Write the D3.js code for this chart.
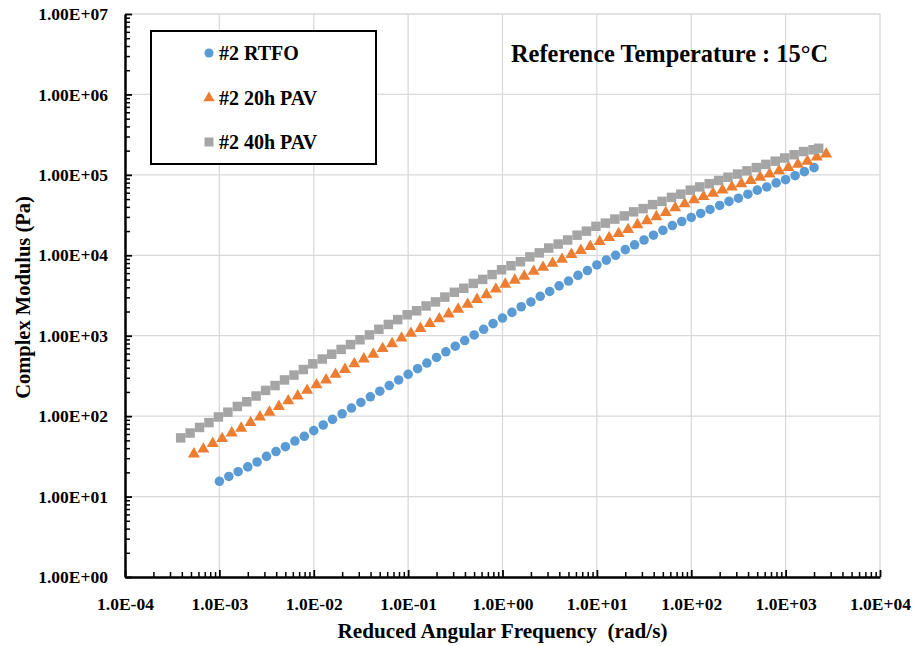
<!DOCTYPE html>
<html>
<head>
<meta charset="utf-8">
<script src="https://cdn.jsdelivr.net/npm/d3@7"></script>
<style>
  body { margin: 0; background: #fff; }
  svg text { font-family: "Times New Roman", "Liberation Serif", serif; font-weight: bold; fill: #000; }
</style>
</head>
<body>
<svg id="chart" width="917" height="646"></svg>
<script>
// ---- data ----
const seriesNames = ["#2 RTFO", "#2 20h PAV", "#2 40h PAV"];

const rtfoFreq = [
  0.001, 0.00126, 0.00158, 0.002, 0.00251, 0.00316, 0.00398, 0.00501, 0.00631, 0.00794,
  0.01, 0.0126, 0.0158, 0.02, 0.0251, 0.0316, 0.0398, 0.0501, 0.0631, 0.0794,
  0.1, 0.126, 0.158, 0.2, 0.251, 0.316, 0.398, 0.501, 0.631, 0.794,
  1, 1.26, 1.58, 2, 2.51, 3.16, 3.98, 5.01, 6.31, 7.94,
  10, 12.6, 15.8, 20, 25.1, 31.6, 39.8, 50.1, 63.1, 79.4,
  100, 126, 158, 200, 251, 316, 398, 501, 631, 794,
  1000, 1260, 1580, 2000
];
const rtfoModulus = [
  15.5, 17.8, 20.4, 23.4, 26.9, 31.6, 36.3, 41.7, 49.0, 56.2,
  66.1, 77.6, 91.2, 107, 126, 148, 174, 204, 240, 282,
  331, 389, 457, 537, 631, 741, 871, 1023, 1202, 1413,
  1660, 1950, 2291, 2630, 3090, 3548, 4169, 4786, 5623, 6457,
  7586, 8710, 10000, 11750, 13490, 15490, 17780, 20420, 23440, 26300,
  29510, 33110, 37150, 41690, 46770, 51290, 57540, 64570, 70790, 79430,
  87100, 97720, 109600, 123000
];

const pav20Freq = [
  0.000537, 0.000676, 0.000851,
  0.00107, 0.00135, 0.0017, 0.00214, 0.00269, 0.00339, 0.00427, 0.00537, 0.00676, 0.00851,
  0.0107, 0.0135, 0.017, 0.0214, 0.0269, 0.0339, 0.0427, 0.0537, 0.0676, 0.0851,
  0.107, 0.135, 0.17, 0.214, 0.269, 0.339, 0.427, 0.537, 0.676, 0.851,
  1.07, 1.35, 1.7, 2.14, 2.69, 3.39, 4.27, 5.37, 6.76, 8.51,
  10.7, 13.5, 17.0, 21.4, 26.9, 33.9, 42.7, 53.7, 67.6, 85.1,
  107, 135, 170, 214, 269, 339, 427, 537, 676, 851,
  1070, 1350, 1700, 2140, 2690
];
const pav20Modulus = [
  33.9, 38.9, 45.7,
  52.5, 61.7, 70.8, 83.2, 97.7, 112, 132, 155, 178, 209,
  245, 282, 331, 380, 447, 513, 589, 692, 794, 933,
  1072, 1230, 1413, 1622, 1862, 2138, 2455, 2818, 3236, 3802,
  4365, 4898, 5495, 6310, 7079, 7943, 8913, 10230, 11480, 12880,
  14790, 16600, 18620, 20890, 23990, 26920, 30200, 33880, 38900, 43650,
  48980, 53700, 58880, 64570, 70790, 77620, 85110, 93330, 102300, 112200,
  123000, 134900, 147900, 166000, 182000
];

const pav40Freq = [
  0.000389, 0.00049, 0.000617, 0.000776, 0.000977,
  0.00123, 0.00155, 0.00195, 0.00245, 0.00309, 0.00389, 0.0049, 0.00617, 0.00776, 0.00977,
  0.0123, 0.0155, 0.0195, 0.0245, 0.0309, 0.0389, 0.049, 0.0617, 0.0776, 0.0977,
  0.123, 0.155, 0.195, 0.245, 0.309, 0.389, 0.49, 0.617, 0.776, 0.977,
  1.23, 1.55, 1.95, 2.45, 3.09, 3.89, 4.9, 6.17, 7.76, 9.77,
  12.3, 15.5, 19.5, 24.5, 30.9, 38.9, 49.0, 61.7, 77.6, 97.7,
  123, 155, 195, 245, 309, 389, 490, 617, 776, 977,
  1230, 1550, 1950, 2240
];
const pav40Modulus = [
  53.7, 61.7, 72.4, 83.2, 97.7,
  112, 132, 151, 178, 209, 240, 282, 324, 380, 447,
  513, 589, 676, 776, 891, 1023, 1202, 1380, 1585, 1820,
  2042, 2344, 2630, 3020, 3467, 3890, 4467, 5012, 5754, 6607,
  7413, 8318, 9550, 10720, 12300, 13800, 15490, 17780, 19950, 22910,
  25120, 28180, 30900, 34670, 38020, 42660, 46770, 52480, 57540, 64570,
  70790, 77620, 85110, 93330, 102300, 112200, 123000, 134900, 147900, 162200,
  177800, 195000, 205000, 214000
];

const xTickValues = [1e-4, 1e-3, 1e-2, 1e-1, 1e0, 1e1, 1e2, 1e3, 1e4];
const xTickLabels = ["1.0E-04", "1.0E-03", "1.0E-02", "1.0E-01", "1.0E+00", "1.0E+01", "1.0E+02", "1.0E+03", "1.0E+04"];
const yTickValues = [1e0, 1e1, 1e2, 1e3, 1e4, 1e5, 1e6, 1e7];
const yTickLabels = ["1.00E+00", "1.00E+01", "1.00E+02", "1.00E+03", "1.00E+04", "1.00E+05", "1.00E+06", "1.00E+07"];

const xTitle = "Reduced Angular Frequency\u00a0\u00a0(rad/s)";
const yTitle = "Complex Modulus (Pa)";
const note = "Reference Temperature : 15\u00b0C";

// ---- drawing ----
const svg = d3.select("#chart");
const margin = {top: 14, right: 37, bottom: 69, left: 125};
const W = 917, H = 646;

const x = d3.scaleLog().domain([1e-4, 1e4]).range([margin.left, W - margin.right]);
const y = d3.scaleLog().domain([1, 1e7]).range([H - margin.bottom, margin.top]);

// gridlines
const grid = svg.append("g").attr("stroke", "#d9d9d9").attr("stroke-width", 1.3);
grid.selectAll(".gx").data(xTickValues.slice(1)).join("line")
  .attr("x1", d => x(d)).attr("x2", d => x(d))
  .attr("y1", y(1e7)).attr("y2", y(1));
grid.selectAll(".gy").data(yTickValues.slice(1)).join("line")
  .attr("x1", x(1e-4)).attr("x2", x(1e4))
  .attr("y1", d => y(d)).attr("y2", d => y(d));

// minor ticks
const xMinor = x.ticks().filter(d => !xTickValues.some(v => Math.abs(v - d) / v < 1e-9));
const yMinor = y.ticks().filter(d => !yTickValues.some(v => Math.abs(v - d) / v < 1e-9));

svg.append("g")
  .attr("transform", `translate(0,${y(1)})`)
  .call(d3.axisBottom(x).tickValues(xMinor).tickFormat("").tickSizeInner(-5).tickSizeOuter(0))
  .call(g => g.select(".domain").remove())
  .call(g => g.selectAll("line").attr("stroke-width", 1.5));

svg.append("g")
  .attr("transform", `translate(${x(1e-4)},0)`)
  .call(d3.axisLeft(y).tickValues(yMinor).tickFormat("").tickSizeInner(-5).tickSizeOuter(0))
  .call(g => g.select(".domain").remove())
  .call(g => g.selectAll("line").attr("stroke-width", 1.5));

// major axes
svg.append("g")
  .attr("transform", `translate(0,${y(1)})`)
  .call(d3.axisBottom(x).tickValues(xTickValues).tickFormat((d, i) => xTickLabels[i])
    .tickSizeInner(-7).tickSizeOuter(0).tickPadding(21))
  .call(g => g.select(".domain").attr("stroke-width", 2.5))
  .call(g => g.selectAll("line").attr("stroke-width", 1.8))
  .call(g => g.selectAll("text").attr("font-size", 17.5).attr("font-family", null));

svg.append("g")
  .attr("transform", `translate(${x(1e-4)},0)`)
  .call(d3.axisLeft(y).tickValues(yTickValues).tickFormat((d, i) => yTickLabels[i])
    .tickSizeInner(-7).tickSizeOuter(0).tickPadding(17))
  .call(g => g.select(".domain").attr("stroke-width", 2.5))
  .call(g => g.selectAll("line").attr("stroke-width", 1.8))
  .call(g => g.selectAll("text").attr("font-size", 17.5).attr("font-family", null));

// axis titles
svg.append("text")
  .attr("x", (x(1e-4) + x(1e4)) / 2)
  .attr("y", 638)
  .attr("text-anchor", "middle")
  .attr("font-size", 21.2)
  .text(xTitle);

svg.append("text")
  .attr("transform", `translate(30,${(y(1) + y(1e7)) / 2 + 2}) rotate(-90)`)
  .attr("text-anchor", "middle")
  .attr("font-size", 20.5)
  .text(yTitle);

// series
const series = [
  {name: seriesNames[0], freq: rtfoFreq, mod: rtfoModulus, color: "#5b9bd5", type: d3.symbolCircle, size: 72},
  {name: seriesNames[1], freq: pav20Freq, mod: pav20Modulus, color: "#ed7d31", type: d3.symbolTriangle, size: 62},
  {name: seriesNames[2], freq: pav40Freq, mod: pav40Modulus, color: "#a5a5a5", type: d3.symbolSquare, size: 90}
];

series.forEach(s => {
  const pts = s.freq.map((f, i) => ({f, m: s.mod[i]}));
  svg.append("g").selectAll("path").data(pts).join("path")
    .attr("transform", d => `translate(${x(d.f)},${y(d.m)})`)
    .attr("d", d3.symbol().type(s.type).size(s.size))
    .attr("fill", s.color);
});

// legend
const legend = svg.append("g");
legend.append("rect")
  .attr("x", 151).attr("y", 31).attr("width", 225).attr("height", 133)
  .attr("fill", "#fff").attr("stroke", "#000").attr("stroke-width", 2);
const rowsY = [53, 98, 142];
series.forEach((s, i) => {
  legend.append("path")
    .attr("transform", `translate(209,${rowsY[i]})`)
    .attr("d", d3.symbol().type(s.type).size(s.size * 0.9))
    .attr("fill", s.color);
  legend.append("text")
    .attr("x", 219).attr("y", rowsY[i] + 7)
    .attr("font-size", 20)
    .text(s.name);
});

// annotation
svg.append("text")
  .attr("x", 511).attr("y", 62)
  .attr("font-size", 24.4)
  .text(note);
</script>
</body>
</html>
